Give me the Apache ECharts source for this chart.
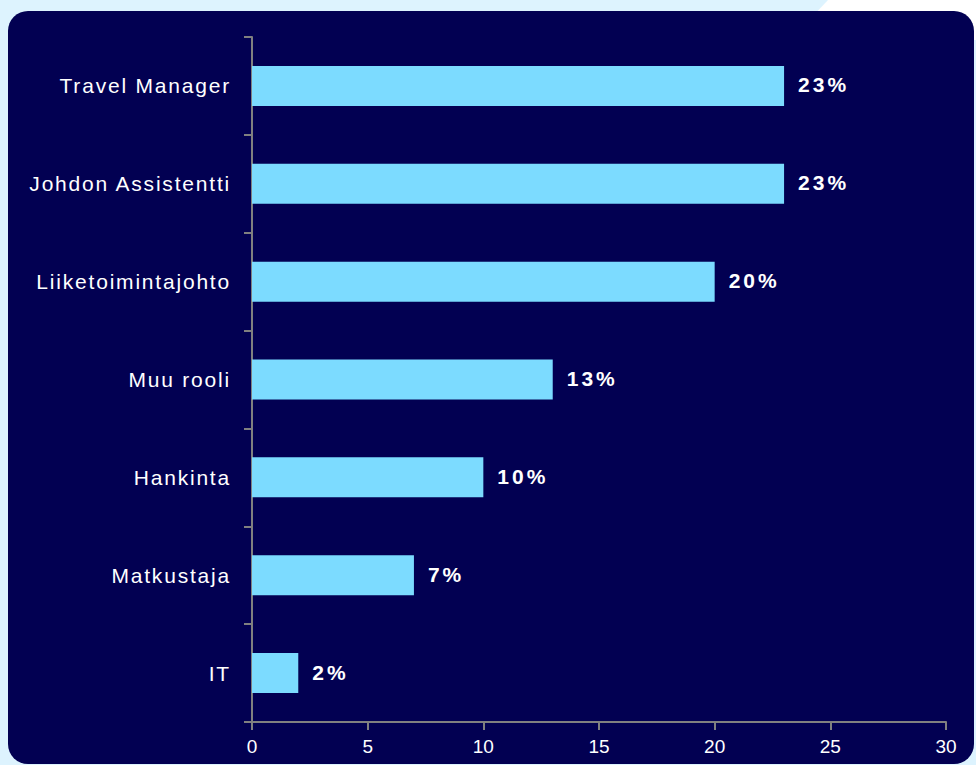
<!DOCTYPE html>
<html>
<head>
<meta charset="utf-8">
<script src="https://cdn.jsdelivr.net/npm/echarts@6/dist/echarts.min.js"></script>
<style>
html,body{margin:0;padding:0;background:#DDF3FE;}
#c{width:976px;height:765px;}
#c text{letter-spacing:1.8px;}
#c text[style*="19px"]{letter-spacing:0;}
#c text[style*="bold"]{letter-spacing:3px;}
</style>
</head>
<body>
<div id="c"></div>
<script>
const categories = ['Travel Manager', 'Johdon Assistentti', 'Liiketoimintajohto', 'Muu rooli', 'Hankinta', 'Matkustaja', 'IT'];
const values = [23, 23, 20, 13, 10, 7, 2];
const xTicks = [0, 5, 10, 15, 20, 25, 30];

const chart = echarts.init(document.getElementById('c'), null, { renderer: 'svg' });
chart.setOption({
  backgroundColor: '#DDF3FE',
  animation: false,
  graphic: [
    { type: 'polygon', z: -10, shape: { points: [[828, 0], [976, 0], [976, 40], [790, 40]] }, style: { fill: '#FFFFFF' } },
    { type: 'rect', z: -5, shape: { x: 8, y: 11, width: 966, height: 753, r: 20 }, style: { fill: '#020052' } }
  ],
  grid: { left: 252, top: 37, right: 30, bottom: 43, containLabel: false },
  xAxis: {
    type: 'value', min: xTicks[0], max: xTicks[xTicks.length - 1], interval: 5,
    axisLine: { show: true, lineStyle: { color: '#808080', width: 2 } },
    axisTick: { show: true, length: 8, lineStyle: { color: '#808080', width: 2 } },
    splitLine: { show: false },
    axisLabel: { color: '#FFFFFF', fontFamily: 'Liberation Sans', fontSize: 19, margin: 15 }
  },
  yAxis: {
    type: 'category', data: categories, inverse: true,
    axisLine: { show: true, lineStyle: { color: '#808080', width: 2 } },
    axisTick: { show: true, length: 8, alignWithLabel: false, lineStyle: { color: '#808080', width: 2 } },
    axisLabel: { color: '#FFFFFF', fontFamily: 'Liberation Sans', fontSize: 21, margin: 21, padding: [0, 0, 3, 0] }
  },
  series: [{
    type: 'bar', data: values, barWidth: 40,
    itemStyle: { color: '#7CDBFF' },
    label: {
      show: true, position: 'right', distance: 14, offset: [0, -1], formatter: '{c}%',
      color: '#FFFFFF', fontFamily: 'Liberation Sans', fontWeight: 'bold', fontSize: 21
    }
  }]
});
</script>
</body>
</html>
